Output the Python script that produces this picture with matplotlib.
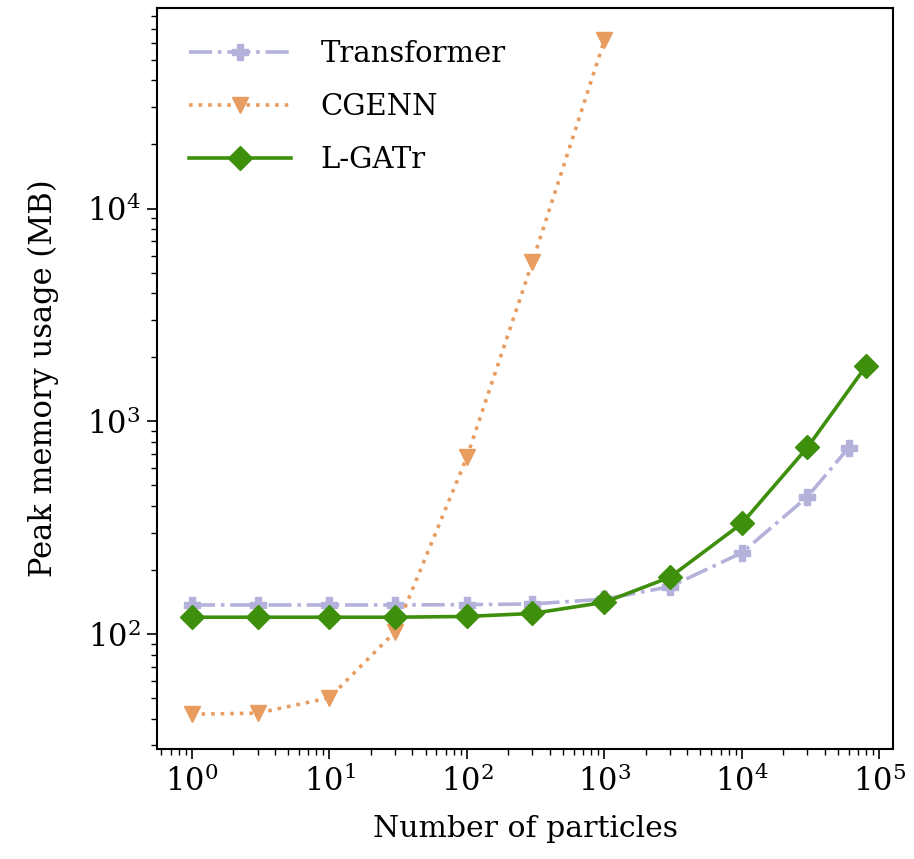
import numpy as np
import matplotlib
matplotlib.use("Agg")
import matplotlib.pyplot as plt

# data
x_trans = [1, 3, 10, 30, 100, 300, 1000, 3000, 10000, 30000, 60000]
y_trans = [137, 137, 137, 137, 137.5, 138.5, 146, 167, 241, 442, 753]

x_cgenn = [1, 3, 10, 30, 100, 300, 1000]
y_cgenn = [42, 42.5, 50.2, 102.5, 679, 5620, 61800]

x_lgatr = [1, 3, 10, 30, 100, 300, 1000, 3000, 10000, 30000, 80000]
y_lgatr = [120, 120, 120, 120, 121, 125, 141, 185, 331, 754, 1816]

plt.rcParams['font.family'] = ['DejaVu Serif']
plt.rcParams['mathtext.fontset'] = 'dejavuserif'

fig = plt.figure(figsize=(9.14, 8.59), dpi=100)
ax = fig.add_axes([0.1718, 0.128, 0.8053, 0.8626])

ax.plot(x_trans, y_trans, color='#b4b2da', linestyle='-.', marker='P',
        markersize=12, linewidth=2.6, label='Transformer')
ax.plot(x_cgenn, y_cgenn, color='#e89c5f', linestyle=':', marker='v',
        markersize=12, linewidth=2.6, label='CGENN')
ax.plot(x_lgatr, y_lgatr, color='#3e8f0c', linestyle='-', marker='D',
        markersize=12, linewidth=2.6, label='L-GATr')

ax.set_xscale('log')
ax.set_yscale('log')
ax.set_xlim(10**-0.254, 10**5.1)
ax.set_ylim(10**1.4596, 10**4.942)

ax.set_xlabel('Number of particles', fontsize=21.5, labelpad=12)
ax.set_ylabel('Peak memory usage (MB)', fontsize=22, labelpad=20)
ax.tick_params(which='major', labelsize=22, length=7, width=1.2, pad=5)
ax.tick_params(which='minor', length=4, width=1)
for s in ax.spines.values():
    s.set_linewidth(1.5)

ax.legend(loc='upper left', frameon=False, fontsize=21, handlelength=3.5,
          labelspacing=0.85, borderaxespad=0.7, handletextpad=1.0)

fig.savefig('out.png', dpi=100)
